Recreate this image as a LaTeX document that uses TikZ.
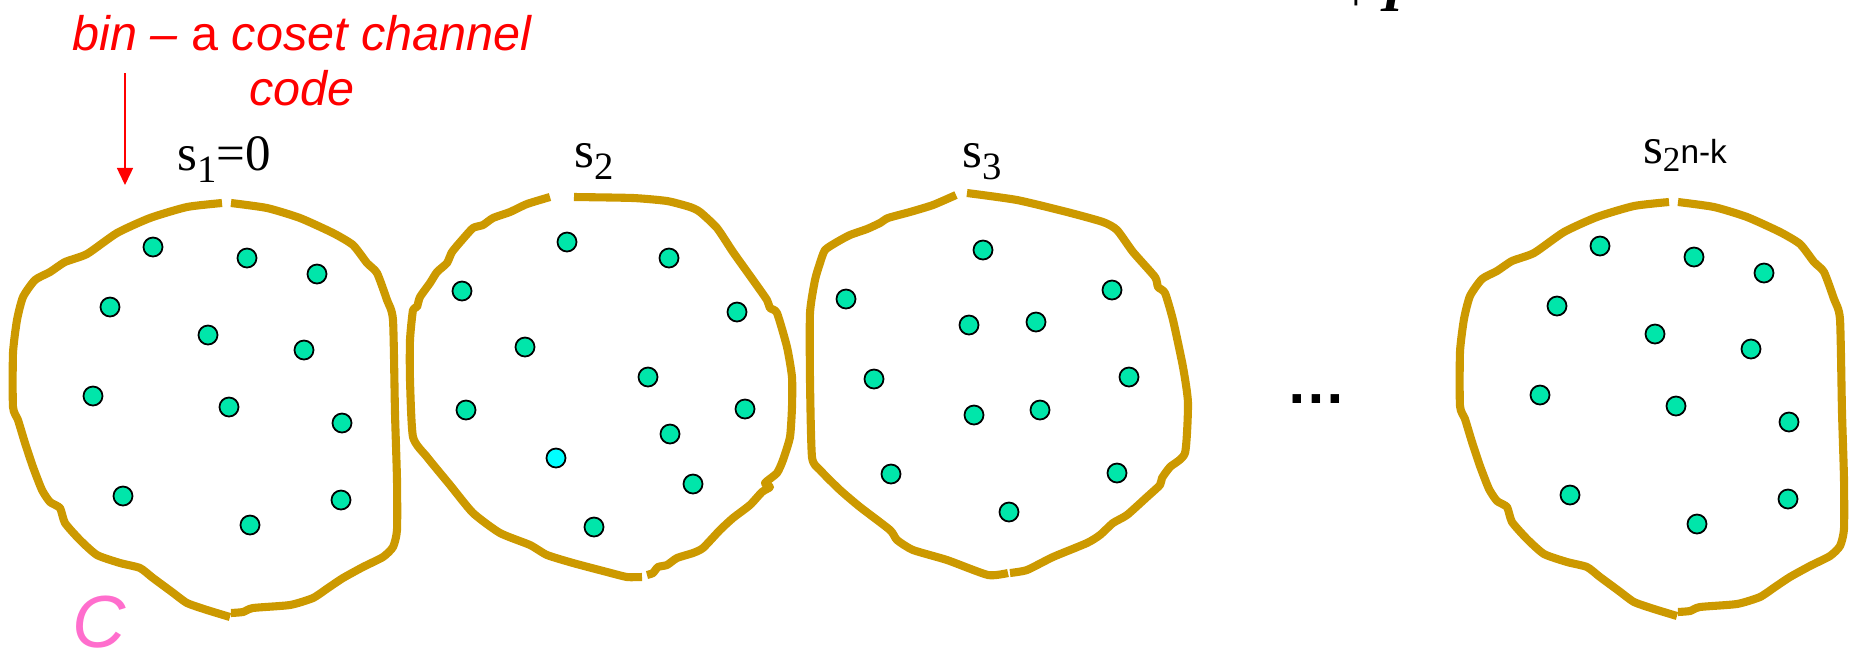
\documentclass[tikz,border=0pt]{standalone}
\usepackage{fontspec}
\setmainfont{Liberation Serif}
\newfontfamily\tahoma{Liberation Sans}
\usepackage{xcolor}
\usepackage{tikz}
\usetikzlibrary{arrows.meta}

\definecolor{bingold}{RGB}{204,153,0}
\definecolor{wordgreen}{RGB}{0,230,170}
\definecolor{wordcyan}{RGB}{0,255,255}
\definecolor{cpink}{RGB}{255,110,205}

\newcommand{\sidx}[1]{\raisebox{-3.6pt}{\fontsize{11}{11}\selectfont #1}}

\begin{document}
\begin{tikzpicture}[x=0.01cm, y=-0.01cm,
  binline/.style={bingold, line width=2.3pt, line join=round},
  word/.style={draw=black, line width=0.5pt, fill=wordgreen},
  freeword/.style={word, fill=wordcyan},
  slabel/.style={anchor=base, inner sep=0pt, font=\fontsize{14.5}{16}\selectfont},
  note/.style={red, inner sep=0pt, align=center, font=\tahoma\itshape\fontsize{13.8}{15.6}\selectfont},
  arrow/.style={red, line width=0.4pt, -{Triangle[length=1.7mm,width=1.6mm]}}]

  \useasboundingbox (0,0) rectangle (1850,654);

  \node (bin) [note, anchor=north] at (302,15) {bin – {\upshape a} coset channel\\code};
  \coordinate (arrtail) at (125,73);
  \coordinate (arrtip) at (125,185);
  \node (s1) [slabel] at (224,170) {s\sidx{1}=0};
  \node (s2) [slabel] at (594,167) {s\sidx{2}};
  \node (s3) [slabel] at (982,167) {s\sidx{3}};
  \node (sn) [slabel] at (1685,163) {s\raisebox{-2.4pt}{\fontsize{10}{10}\selectfont 2}{\tahoma\fontsize{9.5}{10}\selectfont n-k}};
  \node (dots) [anchor=base, inner sep=0pt, font=\tahoma\bfseries\fontsize{17}{17}\selectfont] at (1316,403) {…};
  \node (code) [cpink, inner sep=0pt, font=\tahoma\itshape\fontsize{21}{21}\selectfont] at (99,622) {C};
  \node (cut) [anchor=base west, inner sep=0pt, font=\fontsize{16}{16}\selectfont] at (1340,11) {+\,\textbf{\textit{I}}};

  \draw [arrow] (arrtail) -- (arrtip);

  \foreach \dx/\dy in {0/0,1447/-1} {
    \begin{scope}[shift={(\dx,\dy)}]
      \draw [binline] plot[smooth, tension=0.35] coordinates {(222,203) (187,207) (150,218) (117,233) (87,254) (65,262) (50,272) (35,280) (23,297) (17,320) (13,353) (13,407) (18,420) (25,443) (33,467) (42,490) (50,502) (60,508) (65,523) (80,540) (97,555) (120,563) (140,568) (153,578) (172,592) (187,603) (207,610) (230,617)};
      \draw [binline] plot[smooth, tension=0.35] coordinates {(231,613) (243,612) (253,608) (290,605) (313,598) (328,588) (343,578) (363,567) (383,557) (393,547) (397,530) (397,480) (395,413) (393,320) (387,300) (377,273) (367,263) (353,245) (333,233) (300,218) (267,208) (231,203)};
      \foreach \p in {(153,247),(247,258),(317,274),(110,307),(208,335),(304,350),(93,396),(229,407),(342,423),(123,496),(341,500),(250,525)}
        \draw [word] \p circle[radius=0.95mm];
    \end{scope}
  }

  \draw [binline] plot[smooth, tension=0.35] coordinates {(550,197) (527,204) (510,212) (493,218) (483,225) (473,228) (462,240) (452,252) (447,263) (437,272) (430,283) (420,297) (417,307) (413,310) (410,340) (410,380) (413,437) (427,457) (450,485) (473,513) (500,533) (530,545) (547,555) (573,563) (607,572) (627,577) (642,577)};
  \draw [binline] plot[smooth, tension=0.35] coordinates {(647,575) (653,573) (658,567) (667,565) (677,558) (693,553) (703,548) (720,530) (733,518) (750,505) (762,492) (770,487) (765,483) (777,473) (783,460) (790,437) (792,407) (792,377) (787,347) (777,313) (770,308) (767,300) (753,280) (733,252) (717,228) (700,212) (690,207) (667,201) (633,198) (574,197)};
  \foreach \p in {(567,242),(669,258),(462,291),(737,312),(525,347),(648,377),(466,410),(745,409),(670,434),(693,484),(594,527)}
    \draw [word] \p circle[radius=0.95mm];
  \draw [freeword] (556,458) circle[radius=0.95mm];

  \draw [binline] plot[smooth, tension=0.35] coordinates {(956,195) (933,205) (910,212) (888,218) (880,223) (867,229) (850,235) (837,242) (825,250) (820,263) (815,280) (810,313) (810,380) (812,457) (820,470) (840,490) (860,507) (890,530) (897,540) (913,550) (947,560) (988,575) (1008,573)};
  \draw [binline] plot[smooth, tension=0.35] coordinates {(1010,573) (1027,570) (1053,557) (1087,543) (1100,535) (1113,523) (1127,515) (1147,497) (1160,485) (1162,478) (1170,467) (1185,453) (1188,403) (1183,367) (1173,320) (1165,293) (1158,287) (1155,277) (1133,252) (1117,230) (1103,222) (1067,212) (1017,200) (967,193)};
  \foreach \p in {(983,250),(846,299),(1112,290),(969,325),(1036,322),(874,379),(1129,377),(974,415),(1040,410),(891,474),(1117,473),(1009,512)}
    \draw [word] \p circle[radius=0.95mm];
\end{tikzpicture}
\end{document}
